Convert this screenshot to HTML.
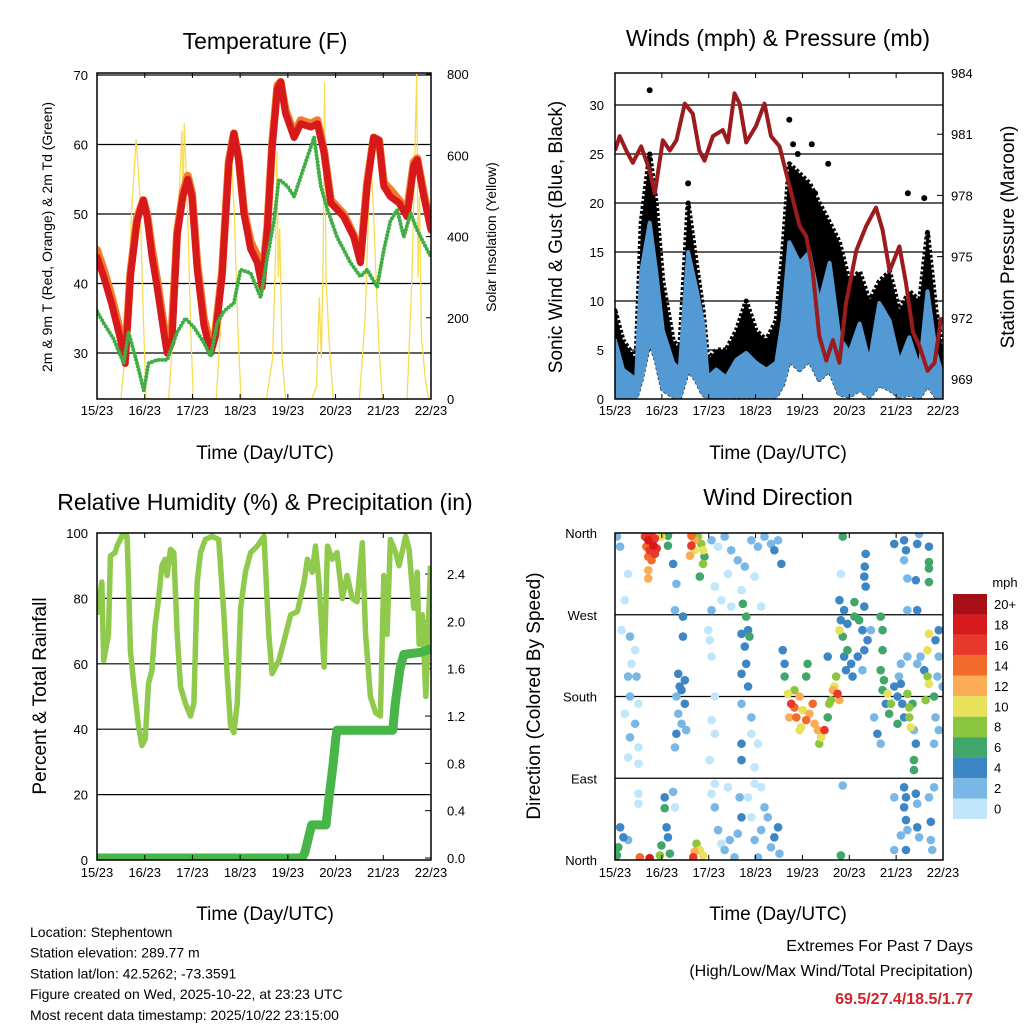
<!DOCTYPE html>
<html><head><meta charset="utf-8"><title>Station Meteogram</title>
<style>
html,body{margin:0;padding:0;background:#fff;}
svg{display:block;font-family:"Liberation Sans",sans-serif;}
</style></head>
<body>
<svg id="chart" width="1024" height="1024" viewBox="0 0 1024 1024" xmlns="http://www.w3.org/2000/svg"></svg>
<script>
// ---------- DATA ----------
const dayLabels = ["15/23","16/23","17/23","18/23","19/23","20/23","21/23","22/23"];
// Temperature (F)
const tempDays = [0,.14,.31,.49,.59,.7,.84,.97,1.05,1.15,1.26,1.4,1.47,1.57,1.68,1.8,1.9,1.99,2.1,2.24,2.38,2.48,2.62,2.76,2.87,2.97,3.08,3.22,3.36,3.46,3.57,3.67,3.78,3.85,3.95,4.13,4.27,4.48,4.62,4.76,4.9,5.17,5.38,5.52,5.66,5.8,5.91,6.01,6.15,6.33,6.5,6.64,6.71,6.85,7.0];
const temp2m = [43.8,41,37,32,28.5,41,49,52,49.6,44,39.5,33,30,31.5,47,52.5,55,52.5,42,34,30,32.3,41,57,61.6,57.8,50,45,43,39.5,47.7,59.6,68,69,64.5,61,63,62.5,63,58.8,51.6,49.6,46.7,43,54,61,60.6,54,52.5,51.6,49.6,57,57.8,52.5,47.7];
const temp9m = [44.8,42,38,33,29.5,41.5,49.5,52,50,45,40.5,34,32,33.5,47.5,53,55.5,53,43,35,31,33,41.5,57.5,61.6,58,50.5,46,44,40.5,48,60,68.5,69,65,61.5,63.5,63,63.5,59,52,50,47,43.5,54.5,61,60.6,54.5,53.5,52,50.5,57.5,58,53,48];
const dewDays = [0,.14,.35,.56,.66,.84,.98,1.08,1.26,1.47,1.68,1.85,2.03,2.24,2.38,2.52,2.66,2.87,3.01,3.22,3.43,3.57,3.71,3.81,3.99,4.13,4.34,4.55,4.69,4.83,5.03,5.31,5.52,5.66,5.87,6.01,6.15,6.29,6.43,6.57,6.71,6.85,7.0];
const dewpoint = [36,34.3,32,28.5,33,28.5,24.6,28.5,29,29,33,35,33.7,31.5,29.5,34.3,36,37.2,42,41.5,38,43.8,49,55,54,52.5,56.8,61,54,50.6,46.7,43,41,42,39.5,44.8,49,50.6,46.7,50.1,47.7,45.8,43.8];
const solarDays = [0.5,0.62,0.72,0.82,0.9,0.97,1.03, 1.5,1.62,1.72,1.78,1.8,1.83,1.9,1.97,2.02, 2.5,2.6,2.7,2.8,2.88,2.96,3.02, 3.55,3.68,3.74,3.77,3.8,3.83,3.88,3.95, 4.5,4.6,4.66,4.7,4.74,4.77,4.8,4.86,4.95, 5.5,5.62,5.7,5.72,5.8,5.9,5.98, 6.5,6.6,6.66,6.7,6.73,6.76,6.8,6.88,6.95];
const solarWm2 = [0,150,450,640,500,200,0, 0,200,500,660,480,680,450,150,0, 0,200,500,640,450,150,0, 0,100,350,610,300,420,100,0, 0,30,250,100,350,780,300,150,0, 0,200,500,640,450,150,0, 0,300,600,800,300,500,150,50,0];
const tempTicks = [30,40,50,60,70];
const solarTicks = [0,200,400,600,800];
// Winds & pressure
const windDays = [0,.17,.45,.56,.74,.88,1.02,1.24,1.38,1.56,1.73,1.88,1.98,2.16,2.37,2.59,2.8,3.01,3.23,3.44,3.58,3.72,3.94,4.15,4.36,4.58,4.79,5.0,5.22,5.43,5.64,5.86,6.07,6.28,6.5,6.67,6.85,7.0];
const windHigh = [6,3,2,13,18,13,7,3.7,3,15,11.4,7.7,2.2,3,2.2,4,4.7,3.7,3,3.7,8,16,13.9,15,9.8,13.9,6.3,4.7,7.7,3.7,9.8,8,3.7,6.3,3,11,4.7,2.2];
const windLow = [0.3,0.2,0.2,2,6,4,1,0.3,0.2,3,2,0.5,0.2,0.2,0.2,0.3,0.3,0.3,0.2,0.3,1.5,4,3,4,2,3,0.5,0.3,1,0.3,1.5,1,0.3,0.5,0.2,1.5,0.3,0.1];
const gustHigh = [9,6,4,18,25,20,12,6,5,20,14,9,4,5,5,7,10,7,6,8,15,24,23,22,20,18,16,12,13,10,12,13,9,11,10,17,9,5];
const gustPeakDays = [0.74,1.56,3.72,3.9,4.2,4.27,6.25,6.6,4.55,3.8];
const gustPeakMph = [31.5,22,28.5,25,26,21,21,20.5,24,26];
const presDays = [0,.1,.24,.38,.56,.74,.85,1.02,1.17,1.31,1.49,1.66,1.8,1.91,2.09,2.3,2.41,2.55,2.66,2.8,3.01,3.19,3.33,3.51,3.73,3.94,4.08,4.22,4.36,4.51,4.65,4.79,4.93,5.15,5.36,5.57,5.71,5.86,6.07,6.21,6.36,6.5,6.67,6.82,6.96];
const pressure = [980.2,980.9,980.2,979.6,980.4,979.2,978.1,980.7,980.2,980.7,982.5,982.0,980.2,979.7,980.9,981.2,980.6,983.0,982.5,980.6,981.4,982.5,980.9,980.4,978.4,976.5,976.0,974.3,971.1,969.9,970.9,969.8,972.7,975.3,976.5,977.4,976.3,974.3,975.5,973.7,971.3,970.6,969.4,969.8,972.0];
const windTicks = [0,5,10,15,20,25,30];
const presTicks = [969,972,975,978,981,984];
// RH & precipitation
const rhDays = [0,.1,.14,.24,.28,.38,.42,.52,.63,.66,.7,.77,.87,.94,1.01,1.08,1.15,1.22,1.29,1.36,1.43,1.47,1.54,1.61,1.68,1.75,1.85,1.96,2.03,2.1,2.17,2.27,2.41,2.55,2.66,2.73,2.8,2.87,2.94,3.01,3.11,3.22,3.36,3.5,3.6,3.67,3.81,3.92,4.06,4.2,4.34,4.41,4.51,4.58,4.65,4.76,4.83,4.93,5.03,5.14,5.24,5.35,5.45,5.56,5.63,5.73,5.84,5.94,6.01,6.08,6.15,6.26,6.33,6.47,6.54,6.64,6.71,6.75,6.82,6.89,6.99];
const rhPct = [75,85,61,69,93,94,96,99,99,85,64,54,41,35,37,54,58,72,80,90,92,87,95,94,69,53,48,44,48,85,94,98,99,98,75,56,41,39,48,77,88,94,96,99,69,57,61,67,75,76,85,92,88,96,85,59,96,92,94,80,87,80,79,97,69,50,45,44,87,69,98,94,90,99,95,77,88,66,75,50,90];
const precipDays = [0,4.3,4.36,4.45,4.5,4.8,4.86,4.95,5.0,5.03,6.2,6.25,6.35,6.43,6.8,7.0];
const precipIn = [0,0,0.05,0.2,0.28,0.28,0.5,0.8,1.0,1.08,1.08,1.3,1.6,1.72,1.74,1.77];
const rhTicks = [0,20,40,60,80,100];
const precipTicks = ["0.0","0.4","0.8","1.2","1.6","2.0","2.4"];
// Wind direction observations: [day, degrees, mph]
const dirObs = [
[.64,356,16],[.71,352,18],[.78,357,17],[.85,354,16],[.67,345,15],[.74,341,17],[.82,346,18],[.89,343,16],[.71,334,14],[.78,330,15],[.85,337,16],[.71,319,12],[.71,310,13],[.99,356,10],[1.13,357,7],[1.13,346,7],
[1.63,357,14],[1.7,352,12],[1.63,346,16],[1.6,335,12],[1.77,356,9],[1.84,348,8],[1.88,341,10],[1.88,326,8],[1.81,312,7],[1.7,341,11],[1.91,334,7],
[2.06,352,2],[2.2,345,1],[2.34,356,2],[2.48,341,3],[2.62,330,2],[2.77,323,3],[2.91,352,2],[3.05,345,3],[3.19,356,3],[3.33,348,3],[3.4,341,4],[3.55,326,4],[3.48,352,3],[2.13,301,1],[2.27,286,0],[2.48,279,1],[2.7,297,1],[2.98,312,1],[3.12,279,1],[2.06,275,2],[2.41,315,1],
[.04,356,3],[.11,345,2],[.28,315,1],[.21,286,1],[.14,253,1],[.32,246,3],[.43,231,1],[.35,216,1],[.28,202,2],[.32,180,2],[.21,161,0],[.43,150,2],[.32,135,2],[.5,124,1],[.28,113,0],[.5,172,1],[.46,202,2],[.5,106,1],
[1.28,275,2],[1.45,268,4],[1.35,205,4],[1.49,198,4],[1.42,187,4],[1.31,180,3],[1.49,172,4],[1.35,161,3],[1.42,150,3],[1.31,139,4],[1.52,143,3],[1.38,191,4],[1.28,124,2],[1.45,246,4],[1.24,326,4],[1.31,304,2],
[1.99,253,1],[2.02,242,1],[2.06,224,1],[2.13,180,1],[2.06,154,1],[2.13,139,1],[2.02,110,1],
[2.73,282,6],[2.8,268,6],[2.84,253,5],[2.87,246,6],[2.7,249,4],[2.77,235,4],[2.8,216,4],[2.7,205,4],[2.84,191,4],[2.7,172,3],[2.91,157,2],[2.7,128,4],[2.7,110,4],[2.91,139,1],[3.05,128,1],[2.98,102,1],
[3.58,231,4],[3.62,216,4],[3.62,202,7],[3.69,183,10],[3.76,172,17],[3.83,168,15],[3.87,157,14],[3.94,180,12],[4.01,165,11],[4.08,154,14],[4.15,161,13],[4.22,172,15],[4.26,150,13],[4.33,143,12],[4.4,135,10],[4.47,143,16],[4.36,128,8],[4.11,216,7],[4.08,202,7],[3.97,146,10],[3.94,143,11],[3.83,187,9],[3.72,157,13],[4.54,157,7],[4.57,172,8],[4.65,187,12],[4.68,191,10],[4.75,183,16],[4.72,202,9],[4.79,176,13],[4.54,224,4],[4.61,176,9],
[4.89,275,4],[4.82,264,4],[4.96,260,5],[5.11,268,6],[5.21,264,7],[5.28,253,5],[5.39,242,4],[5.32,231,4],[4.79,253,11],[4.86,246,7],[4.96,231,6],[5.04,216,4],[5.18,224,4],[5.28,209,3],[5.46,253,3],[4.89,224,4],[5.07,202,4],[4.93,209,5],[4.82,315,1],[4.79,286,4],[5.11,284,6],[5.32,279,4],[5.35,337,4],[5.33,323,4],[5.35,301,4],[5.32,312,4],
[5.67,268,7],[5.71,253,6],[5.71,231,6],[5.67,209,6],[5.74,198,7],[5.71,187,7],[5.82,183,10],[5.89,172,8],[5.78,172,5],[5.85,161,7],[5.96,191,4],[6.03,180,4],[6.06,202,3],[6.1,194,4],[6.13,172,4],[6.17,157,4],[6.24,183,9],[6.28,168,8],[6.28,157,9],[6.31,146,10],[6.35,172,7],[5.53,157,2],[5.6,139,4],[5.67,128,2],[6.03,150,6],[6.1,216,3],[6.24,224,2],[6.38,143,3],[6.42,128,4],[6.38,110,6],[6.38,99,6],[6.45,216,3],[6.52,224,3],[6.6,209,5],[6.67,202,8],[6.7,194,10],[6.63,176,9],[6.81,180,7],[6.67,231,10],[6.7,249,10],[6.84,242,4],[6.91,253,4],[6.91,224,3],[6.88,202,3],[6.99,191,3],[6.84,157,2],[6.91,143,2],[6.81,128,2],
[5.96,348,4],[6.17,352,4],[6.21,341,4],[6.45,348,4],[6.7,345,5],[6.7,328,7],[6.7,321,6],[6.7,306,7],[6.24,310,2],[6.42,308,4],[6.24,275,2],[6.45,275,4],[6.17,330,3],[6.49,359,2],[4.86,356,6],
[.11,36,4],[.07,14,6],[.04,5,7],[.28,22,3],[.18,25,4],[.53,3,15],[.74,2,18],[.5,73,1],[.5,62,1],[1.06,69,4],[1.06,57,6],[1.1,36,4],[1.13,25,4],[.99,16,7],[.96,5,9],[1.17,7,7],[1.24,75,2],[1.28,58,1],[1.74,18,9],[1.7,9,12],[1.67,3,16],[1.88,5,11],[1.81,11,10],[2.06,73,1],[2.13,58,2],[2.2,33,2],[2.27,18,1],[2.34,11,3],[2.45,22,2],[2.55,3,3],[2.62,29,3],[2.7,47,4],[2.66,69,2],[2.41,80,1],[2.13,84,1],[2.98,84,1],[3.12,80,1],[3.19,58,2],[3.26,47,3],[3.12,33,3],[3.33,14,3],[3.4,25,4],[3.48,36,4],[3.51,7,3],[3.05,3,3],[2.98,22,2],[2.91,47,1],[2.84,69,1],[4.82,5,6],[4.86,82,3],[5.96,69,2],[6.17,80,4],[6.21,69,4],[6.17,58,4],[6.21,44,4],[6.24,33,3],[6.1,27,3],[5.96,11,2],[6.21,11,4],[6.42,73,4],[6.45,62,3],[6.45,36,4],[6.49,25,2],[6.7,69,3],[6.74,42,4],[6.74,22,2],[6.77,11,3],[6.81,80,2]
];
const dirDay = dirObs.map(o => o[0]);
const dirDeg = dirObs.map(o => o[1]);
const dirSpeed = dirObs.map(o => o[2]);
const dirTickDeg = [0,90,180,270,360];
const dirTickNames = ["North","East","South","West","North"];
const speedBinLabels = ["20+","18","16","14","12","10","8","6","4","2","0"];
const speedBinColors = ["#a50f15","#d7191c","#e8382c","#f26a2c","#fcac55","#e8e15a","#8cc63f","#40a66a","#3d86c6","#78b7e6","#bfe6fa"];
const extremes = ["69.5","27.4","18.5","1.77"];

// ---------- HELPERS ----------
const NS = "http://www.w3.org/2000/svg";
const svg = document.getElementById("chart");
function mk(tag, attrs, parent) {
  const el = document.createElementNS(NS, tag);
  for (const k in attrs) el.setAttribute(k, attrs[k]);
  (parent || svg).appendChild(el);
  return el;
}
function txt(str, x, y, size, anchor, parent, extra) {
  const t = mk("text", Object.assign({x: x, y: y, "font-size": size, "text-anchor": anchor || "middle", fill: "#000"}, extra || {}), parent);
  t.textContent = str;
  return t;
}
function pathFrom(xs, ys) {
  return xs.map((x, i) => (i ? "L" : "M") + x.toFixed(1) + " " + ys[i].toFixed(1)).join(" ");
}

// axis functions
const xL = d => 97 + d * (334 / 7);
const xR = d => 615 + d * (328 / 7);
const yTemp = v => 353 - (v - 30) * 6.95;
const ySolar = v => 399 - v * 0.406;
const yWind = v => 399 - v * 9.8;
const yPres = p => 73 + (984 - p) * 20.4;
const yRH = v => 860 - v * 3.27;
const yPrecip = v => 858 - v * 118.3;
const yDir = d => 860 - d * (327 / 360);

function clip(id, x, y, w, h) {
  const defs = mk("defs", {});
  const cp = mk("clipPath", {id: id}, defs);
  mk("rect", {x: x, y: y, width: w, height: h}, cp);
}
clip("c1", 97, 73, 334, 326);
clip("c2", 615, 73, 328, 326);
clip("c3", 97, 533, 334, 327);
clip("c4", 615, 533, 328, 327);

function frame(g, x, y, w, h, name) {
  const r = mk("rect", {x: x, y: y, width: w, height: h, fill: "none", stroke: "#000", "stroke-width": 1.5}, g);
  
  
}
function xAxis(g, xf, top, bottom, labY, name) {
  dayLabels.forEach((lab, i) => {
    const x = xf(i);
    mk("line", {x1: x, y1: bottom, x2: x, y2: bottom - 5, stroke: "#000", "stroke-width": 1}, g);
    mk("line", {x1: x, y1: top, x2: x, y2: top + 5, stroke: "#000", "stroke-width": 1}, g);
    const t = txt(lab, x, labY, 13, "middle", g);
    
    
  });
}
function gridH(g, y, x1, x2) {
  mk("line", {x1: x1, y1: y, x2: x2, y2: y, stroke: "#000", "stroke-width": 1.2}, g);
}

// ---------- PANEL 1: TEMPERATURE ----------
const p1 = mk("g", {});


let t1 = txt("Temperature (F)", 265, 49, 23, "middle", p1);


tempTicks.forEach(v => {
  gridH(p1, yTemp(v), 97, 431);
  const t = txt(String(v), 88, yTemp(v) + 5, 13, "end", p1);
  
  
});
solarTicks.forEach(v => {
  mk("line", {x1: 431, y1: ySolar(v), x2: 426, y2: ySolar(v), stroke: "#000"}, p1);
  const t = txt(String(v), 447, ySolar(v) + 5, 13, "start", p1);
  
  
});
const p1d = mk("g", {"clip-path": "url(#c1)"}, p1);
const solarLine = mk("path", {d: pathFrom(solarDays.map(xL), solarWm2.map(ySolar)), fill: "none", stroke: "#f7dc52", "stroke-width": 1.3}, p1d);


const t9 = mk("path", {d: pathFrom(tempDays.map(xL), temp9m.map(yTemp)), fill: "none", stroke: "#f47b2a", "stroke-width": 8, "stroke-linejoin": "round", "stroke-linecap": "round"}, p1d);


const t2 = mk("path", {d: pathFrom(tempDays.map(xL), temp2m.map(yTemp)), fill: "none", stroke: "#d7191c", "stroke-width": 7, "stroke-linejoin": "round", "stroke-linecap": "round"}, p1d);


const td = mk("path", {d: pathFrom(dewDays.map(xL), dewpoint.map(yTemp)), fill: "none", stroke: "#41ad45", "stroke-width": 4, "stroke-dasharray": "0 3.5", "stroke-linecap": "round", "stroke-linejoin": "round"}, p1d);


frame(p1, 97, 73, 334, 326, 'temperature-plot-frame');
xAxis(p1, xL, 73, 399, 415, 'temperature-x');
let l1 = txt("Time (Day/UTC)", 265, 459, 19, "middle", p1);


let l2 = txt("2m & 9m T (Red, Orange) & 2m Td (Green)", 0, 0, 14, "middle", p1, {transform: "translate(52,237) rotate(-90)"});


let l3 = txt("Solar Insolation (Yellow)", 0, 0, 14, "middle", p1, {transform: "translate(496,237) rotate(-90)"});



// ---------- PANEL 2: WINDS & PRESSURE ----------
const p2 = mk("g", {});


let w1 = txt("Winds (mph) & Pressure (mb)", 778, 46, 23, "middle", p2);


windTicks.forEach(v => {
  if (v > 0) gridH(p2, yWind(v), 615, 943);
  const t = txt(String(v), 604, yWind(v) + 5, 13, "end", p2);
  
  
});
presTicks.forEach(v => {
  mk("line", {x1: 943, y1: yPres(v), x2: 937, y2: yPres(v), stroke: "#000"}, p2);
  const t = txt(String(v), 951, yPres(v) + 5, 13, "start", p2);
  
  
});
const p2d = mk("g", {"clip-path": "url(#c2)"}, p2);
const gustXs = windDays.map(xR);
const gustArea = mk("path", {d: pathFrom(gustXs, gustHigh.map(yWind)) + " L" + pathFrom(gustXs.slice().reverse(), windLow.slice().reverse().map(yWind)).slice(1) + " Z", fill: "#000", stroke: "#000", "stroke-width": 5, "stroke-linejoin": "round", "stroke-dasharray": "3 2"}, p2d);


gustPeakDays.forEach((d, i) => {
  const c = mk("circle", {cx: xR(d), cy: yWind(gustPeakMph[i]), r: 3, fill: "#000"}, p2d);
  
  
});
const windArea = mk("path", {d: pathFrom(gustXs, windHigh.map(yWind)) + " L" + pathFrom(gustXs.slice().reverse(), windLow.slice().reverse().map(yWind)).slice(1) + " Z", fill: "#5399d4", stroke: "#5399d4", "stroke-width": 4, "stroke-linejoin": "round"}, p2d);


const presLine = mk("path", {d: pathFrom(presDays.map(xR), pressure.map(yPres)), fill: "none", stroke: "#9b1b1e", "stroke-width": 4, "stroke-linejoin": "round"}, p2d);


frame(p2, 615, 73, 328, 326, 'winds-plot-frame');
xAxis(p2, xR, 73, 399, 415, 'winds-x');
let w2 = txt("Time (Day/UTC)", 778, 459, 19, "middle", p2);


let w3 = txt("Sonic Wind & Gust (Blue, Black)", 0, 0, 19, "middle", p2, {transform: "translate(562,237) rotate(-90)"});


let w4 = txt("Station Pressure (Maroon)", 0, 0, 19, "middle", p2, {transform: "translate(1014,237) rotate(-90)"});



// ---------- PANEL 3: RH & PRECIP ----------
const p3 = mk("g", {});


let h1 = txt("Relative Humidity (%) & Precipitation (in)", 265, 510, 23, "middle", p3);


rhTicks.forEach(v => {
  if (v > 0 && v < 100) gridH(p3, yRH(v), 97, 431);
  const t = txt(String(v), 88, yRH(v) + 5, 13, "end", p3);
  
  
});
precipTicks.forEach(s => {
  const v = parseFloat(s);
  mk("line", {x1: 431, y1: yPrecip(v), x2: 425, y2: yPrecip(v), stroke: "#000"}, p3);
  const t = txt(s, 447, yPrecip(v) + 5, 13, "start", p3);
  
  
});
const p3d = mk("g", {"clip-path": "url(#c3)"}, p3);
const rhLine = mk("path", {d: pathFrom(rhDays.map(xL), rhPct.map(yRH)), fill: "none", stroke: "#8fca4c", "stroke-width": 5.5, "stroke-linejoin": "round"}, p3d);


const prLine = mk("path", {d: pathFrom(precipDays.map(xL), precipIn.map(yPrecip)), fill: "none", stroke: "#47b548", "stroke-width": 9, "stroke-linejoin": "round"}, p3d);


frame(p3, 97, 533, 334, 327, 'humidity-plot-frame');
xAxis(p3, xL, 533, 860, 877, 'humidity-x');
let h2 = txt("Time (Day/UTC)", 265, 920, 19, "middle", p3);


let h3 = txt("Percent & Total Rainfall", 0, 0, 19, "middle", p3, {transform: "translate(46,696) rotate(-90)"});



// ---------- PANEL 4: WIND DIRECTION ----------
const p4 = mk("g", {});


let d1 = txt("Wind Direction", 778, 505, 23, "middle", p4);


dirTickDeg.forEach((v, i) => {
  if (v > 0 && v < 360) gridH(p4, yDir(v), 615, 943);
  const t = txt(dirTickNames[i], 597, yDir(v) + 5, 13, "end", p4);
  
  
});
const p4d = mk("g", {"clip-path": "url(#c4)"}, p4);
function speedColor(s) {
  const bin = Math.min(10, Math.floor(s / 2));
  return speedBinColors[10 - bin];
}
const order = dirSpeed.map((s, i) => i).sort((a, b) => dirSpeed[a] - dirSpeed[b]);
order.forEach(i => {
  const c = mk("circle", {cx: xR(dirDay[i]), cy: yDir(dirDeg[i]), r: 4.3, fill: speedColor(dirSpeed[i])}, p4d);
  
  
});
frame(p4, 615, 533, 328, 327, 'wind-direction-plot-frame');
xAxis(p4, xR, 533, 860, 877, 'wind-direction-x');
let d2 = txt("Time (Day/UTC)", 778, 920, 19, "middle", p4);


let d3 = txt("Direction (Colored By Speed)", 0, 0, 19, "middle", p4, {transform: "translate(540,696) rotate(-90)"});


// colorbar
const cb = mk("g", {}, p4);


let cbt = txt("mph", 1005, 587, 13, "middle", cb);


speedBinColors.forEach((col, i) => {
  const y = 594 + i * 20.45;
  const r = mk("rect", {x: 953, y: y, width: 34, height: 20.45, fill: col}, cb);
  
  
  const t = txt(speedBinLabels[i], 994, y + 15, 13, "start", cb);
  
  
});

// ---------- FOOTER ----------
const info = ["Location: Stephentown","Station elevation: 289.77 m","Station lat/lon: 42.5262; -73.3591","Figure created on Wed, 2025-10-22, at 23:23 UTC","Most recent data timestamp: 2025/10/22 23:15:00"];
info.forEach((s, i) => {
  const t = txt(s, 30, 937 + i * 20.7, 14, "start");
  
  
});
let e1 = txt("Extremes For Past 7 Days", 973, 951, 16, "end");


let e2 = txt("(High/Low/Max Wind/Total Precipitation)", 973, 976, 16, "end");


let e3 = txt(extremes.join("/"), 973, 1004, 16, "end", svg, {fill: "#d2232a", "font-weight": "bold"});


</script>
</body></html>
